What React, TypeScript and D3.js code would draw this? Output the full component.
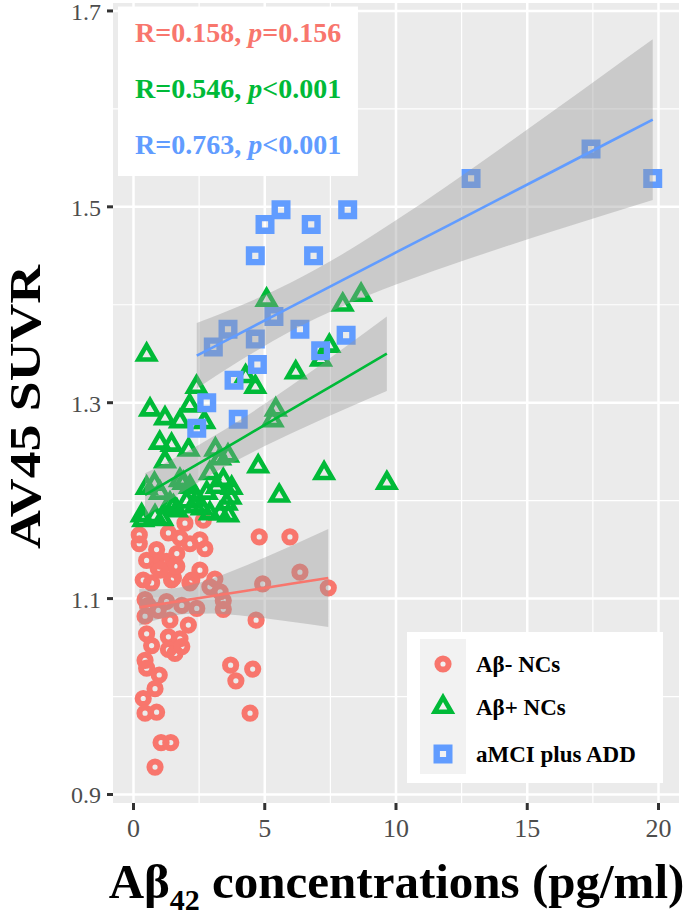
import React from 'react';
import * as d3 from 'd3';

const xTicks = [0, 5, 10, 15, 20];
const yTicks = [0.9, 1.1, 1.3, 1.5, 1.7];
const xMinor = [2.5, 7.5, 12.5, 17.5];
const yMinor = [1.0, 1.2, 1.4, 1.6];

const groupNames = ['Aβ- NCs', 'Aβ+ NCs', 'aMCI plus ADD'];
const groupColors = ['#F8766D', '#00BA38', '#619CFF'];

// Aβ- NCs
const negX = [0.22, 0.22, 0.5, 0.88, 1.26, 0.94, 1.65, 1.77, 1.96, 2.53, 2.72, 2.66, 1.33, 1.65, 1.07, 2.15,
  0.37, 0.69, 1.45, 2.15, 2.53, 3.1, 2.91, 3.3, 3.42, 3.42, 0.44, 0.56, 0.94, 1.26, 1.84, 2.41, 0.44, 1.39,
  2.09, 0.5, 1.33, 1.77, 0.69, 1.33, 1.58, 1.84, 0.44, 0.5, 0.98, 0.82, 0.37, 0.44, 0.88, 1.05, 1.42, 0.82,
  4.79, 5.96, 6.34, 7.42, 4.92, 4.67, 3.7, 3.9, 4.54, 4.44, 1.52, 2.22, 1.58, 1.01];
const negY = [1.165, 1.156, 1.139, 1.15, 1.138, 1.131, 1.133, 1.162, 1.177, 1.16, 1.151, 1.18, 1.167, 1.146, 1.138, 1.156,
  1.119, 1.116, 1.119, 1.116, 1.129, 1.12, 1.112, 1.107, 1.098, 1.089, 1.099, 1.093, 1.088, 1.097, 1.093, 1.09, 1.082, 1.078,
  1.073, 1.064, 1.061, 1.059, 1.052, 1.048, 1.044, 1.051, 1.037, 1.029, 1.022, 1.008, 0.998, 0.983, 0.984, 0.953, 0.953, 0.928,
  1.163, 1.163, 1.127, 1.111, 1.115, 1.078, 1.032, 1.016, 1.028, 0.983, 1.121, 1.119, 1.133, 1.129];

// Aβ+ NCs
const posX = [0.5, 5.07, 7.97, 8.67, 7.46, 7.14, 6.18, 4.27, 4.64, 2.4, 2.14, 0.63, 1.2, 1.77, 2.7, 5.42, 5.3,
  1.0, 1.45, 2.1, 3.12, 3.6, 1.2, 4.75, 7.26, 9.65, 2.91, 1.9, 0.8, 3.74, 5.55, 1.77, 3.42, 2.15, 2.79, 3.17,
  1.39, 2.03, 2.41, 3.55, 0.31, 0.82, 1.65, 3.3, 2.6, 1.01, 0.5, 3.3, 3.7, 0.37, 1.1, 1.52, 2.34, 3.61, 2.91];
const posY = [1.349, 1.405, 1.4, 1.41, 1.358, 1.344, 1.331, 1.327, 1.316, 1.316, 1.297, 1.293, 1.284, 1.281, 1.28, 1.293, 1.282,
  1.259, 1.257, 1.252, 1.252, 1.246, 1.24, 1.235, 1.228, 1.218, 1.228, 1.218, 1.217, 1.213, 1.205, 1.221, 1.221, 1.214, 1.208, 1.214,
  1.197, 1.199, 1.201, 1.197, 1.185, 1.184, 1.19, 1.187, 1.192, 1.208, 1.213, 1.243, 1.203, 1.18, 1.181, 1.194, 1.194, 1.185, 1.187];

// aMCI plus ADD
const admX = [2.41, 2.79, 3.04, 3.6, 3.83, 3.99, 4.64, 4.64, 4.72, 5.01, 5.35, 5.62, 6.34, 6.77, 6.86, 7.13, 8.1, 8.16,
  12.86, 17.43, 19.78];
const admY = [1.274, 1.3, 1.357, 1.375, 1.323, 1.283, 1.45, 1.365, 1.339, 1.482, 1.388, 1.497, 1.375, 1.482, 1.45, 1.353, 1.369, 1.497,
  1.529, 1.559, 1.529];

// linear fits with 95% confidence band
const fitNegX = [0.22, 1, 2, 3, 4, 5, 6, 7.42];
const fitNegY = [1.091, 1.0943, 1.0984, 1.1026, 1.1068, 1.1109, 1.1151, 1.121];
const fitNegLo = [1.0723, 1.0791, 1.0842, 1.0849, 1.083, 1.0799, 1.0764, 1.071];
const fitNegHi = [1.1097, 1.1095, 1.1126, 1.1204, 1.1306, 1.1419, 1.1538, 1.171];

const fitPosX = [0.44, 1, 2, 3, 4, 5, 6, 7, 8, 9.65];
const fitPosY = [1.206, 1.2147, 1.2304, 1.246, 1.2616, 1.2773, 1.2929, 1.3085, 1.3242, 1.35];
const fitPosLo = [1.184, 1.194, 1.2112, 1.2271, 1.2419, 1.2557, 1.2686, 1.2809, 1.2929, 1.312];
const fitPosHi = [1.228, 1.2354, 1.2496, 1.2649, 1.2813, 1.2989, 1.3173, 1.3362, 1.3555, 1.388];

const fitAdmX = [2.41, 4, 6, 8, 10, 12, 14, 16, 18, 19.78];
const fitAdmY = [1.348, 1.3701, 1.3979, 1.4256, 1.4534, 1.4811, 1.5089, 1.5366, 1.5644, 1.589];
const fitAdmLo = [1.3145, 1.342, 1.3731, 1.3989, 1.4206, 1.4398, 1.4579, 1.4752, 1.4922, 1.507];
const fitAdmHi = [1.3815, 1.3982, 1.4227, 1.4523, 1.4862, 1.5224, 1.5599, 1.598, 1.6366, 1.671];

const statR = ['0.158', '0.546', '0.763'];
const statP = ['=0.156', '<0.001', '<0.001'];

const W = 685, H = 917;
const PL = 113, PR = 679, PT = 3, PB = 803;
const SERIF = '"Liberation Serif", "Times New Roman", Times, serif';

const x = d3.scaleLinear().domain([-0.7810, 20.781]).range([PL, PR]);
const y = d3.scaleLinear().domain([0.8913, 1.7081]).range([PB, PT]);

function shapePath(kind: number): string {
  if (kind === 0) {
    const r = 5.6;
    return `M${-r},0A${r},${r} 0 1,0 ${r},0A${r},${r} 0 1,0 ${-r},0Z`;
  }
  if (kind === 1) {
    const s = 16.5, h = s * Math.sqrt(3) / 2;
    return `M0,${-2 * h / 3}L${s / 2},${h / 3}L${-s / 2},${h / 3}Z`;
  }
  const a = 6.3;
  return `M${-a},${-a}L${a},${-a}L${a},${a}L${-a},${a}Z`;
}
const strokeW = [6, 4.6, 6.4];

export default function App() {
  const pts = [
    negX.map((v, i) => [v, negY[i]]),
    posX.map((v, i) => [v, posY[i]]),
    admX.map((v, i) => [v, admY[i]]),
  ];
  const fits = [
    { xs: fitNegX, f: fitNegY, lo: fitNegLo, hi: fitNegHi },
    { xs: fitPosX, f: fitPosY, lo: fitPosLo, hi: fitPosHi },
    { xs: fitAdmX, f: fitAdmY, lo: fitAdmLo, hi: fitAdmHi },
  ];
  const area = d3.area<number>().curve(d3.curveMonotoneX);
  const line = d3.line<[number, number]>();

  const annoBox = { x0: -0.59, x1: 8.55, y0: 1.7045, y1: 1.5315 };
  const legend = { x: 407, y: 632, w: 256, h: 151 };
  const keyRows = [664, 707, 754];

  return (
    <svg width={W} height={H} style={{ position: 'absolute', left: 0, top: 0, background: '#fff' }}
      xmlns="http://www.w3.org/2000/svg">
      <rect x={PL} y={PT} width={PR - PL} height={PB - PT} fill="#EBEBEB" />
      {xMinor.map(t => <line key={'xm' + t} x1={x(t)} x2={x(t)} y1={PT} y2={PB} stroke="#fff" strokeWidth={1.2} />)}
      {yMinor.map(t => <line key={'ym' + t} y1={y(t)} y2={y(t)} x1={PL} x2={PR} stroke="#fff" strokeWidth={1.2} />)}
      {xTicks.map(t => <line key={'xg' + t} x1={x(t)} x2={x(t)} y1={PT} y2={PB} stroke="#fff" strokeWidth={2.5} />)}
      {yTicks.map(t => <line key={'yg' + t} y1={y(t)} y2={y(t)} x1={PL} x2={PR} stroke="#fff" strokeWidth={2.5} />)}

      {/* annotation box */}
      <rect x={x(annoBox.x0)} y={y(annoBox.y0)} width={x(annoBox.x1) - x(annoBox.x0)}
        height={y(annoBox.y1) - y(annoBox.y0)} fill="#fff" />
      {statR.map((r, i) => (
        <text key={'st' + i} x={135} y={42 + i * 56} fill={groupColors[i]} fontFamily={SERIF}
          fontWeight="bold" fontSize={28}>
          {`R=${r}, `}<tspan fontStyle="italic">p</tspan>{statP[i]}
        </text>
      ))}

      {/* points */}
      {pts.map((g, gi) => (
        <g key={'pg' + gi}>
          {g.map((p, i) => (
            <path key={i} d={shapePath(gi)} transform={`translate(${x(p[0])},${y(p[1])})`}
              fill="none" stroke={groupColors[gi]} strokeWidth={strokeW[gi]} strokeLinejoin="miter" />
          ))}
        </g>
      ))}

      {/* smooths */}
      {fits.map((f, gi) => {
        const idx = f.xs.map((_, i) => i);
        const a = area.x(i => x(f.xs[i])).y0(i => y(f.lo[i])).y1(i => y(f.hi[i]))(idx) || '';
        const l = line(f.xs.map((v, i) => [x(v), y(f.f[i])] as [number, number])) || '';
        return (
          <g key={'fit' + gi}>
            <path d={a} fill="#999999" fillOpacity={0.4} />
            <path d={l} fill="none" stroke={groupColors[gi]} strokeWidth={2.6} />
          </g>
        );
      })}

      {/* legend */}
      <rect x={legend.x} y={legend.y} width={legend.w} height={legend.h} fill="#fff" />
      <rect x={420} y={639} width={46} height={135} fill="#F2F2F2" />
      {groupNames.map((n, i) => (
        <g key={'lg' + i}>
          <path d={shapePath(i)} transform={`translate(443,${keyRows[i]})`} fill="none"
            stroke={groupColors[i]} strokeWidth={strokeW[i]} />
          <text x={476} y={keyRows[i] + 7.5} fontFamily={SERIF} fontWeight="bold" fontSize={23} fill="#000">{n}</text>
        </g>
      ))}

      {/* axes ticks */}
      {yTicks.map(t => (
        <g key={'yt' + t}>
          <line x1={107} x2={113} y1={y(t)} y2={y(t)} stroke="#333" strokeWidth={3} />
          <text x={101} y={y(t) + 9} textAnchor="end" fontFamily={SERIF} fontSize={24} fill="#4D4D4D">{t.toFixed(1)}</text>
        </g>
      ))}
      {xTicks.map(t => (
        <g key={'xt' + t}>
          <line x1={x(t)} x2={x(t)} y1={PB} y2={PB + 7} stroke="#333" strokeWidth={3} />
          <text x={x(t)} y={837} textAnchor="middle" fontFamily={SERIF} fontSize={26} fill="#4D4D4D">{t}</text>
        </g>
      ))}

      {/* axis titles */}
      <text x={396.5} y={898} textAnchor="middle" fontFamily={SERIF} fontWeight="bold" fontSize={49} fill="#000">
        Aβ<tspan fontSize={30} dy={12}>42</tspan><tspan dy={-12}> concentrations (pg/ml)</tspan>
      </text>
      <text transform="translate(39.5,407) rotate(-90)" textAnchor="middle" fontFamily={SERIF} fontWeight="bold"
        fontSize={44} fill="#000" textLength={284} lengthAdjust="spacingAndGlyphs">AV45 SUVR</text>
    </svg>
  );
}
